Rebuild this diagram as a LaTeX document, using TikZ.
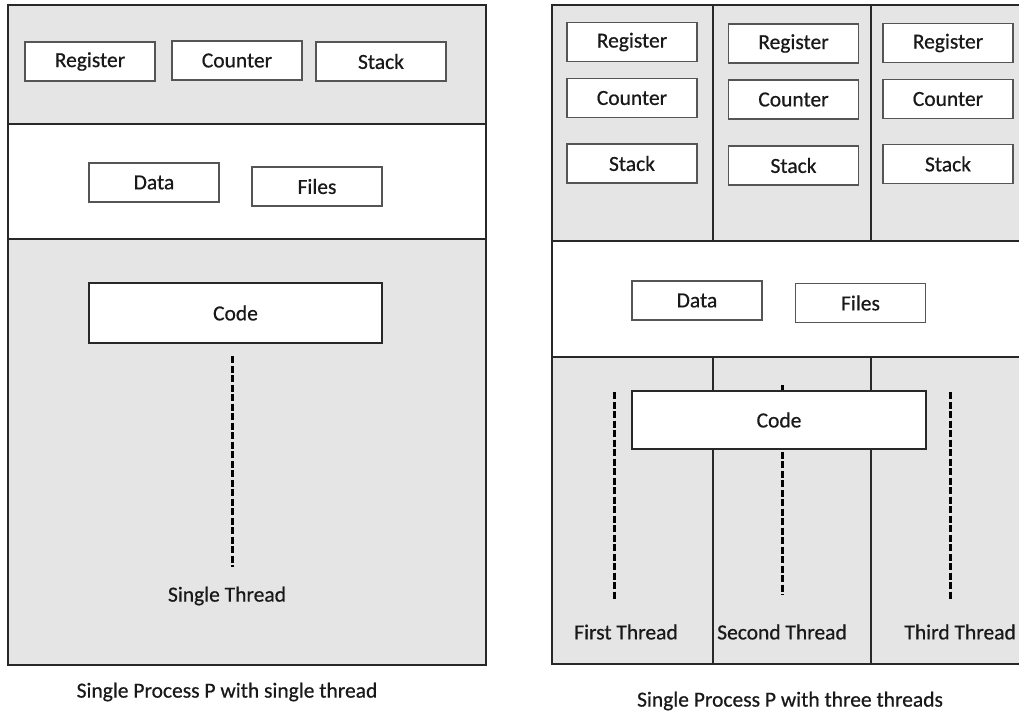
\documentclass[tikz,border=0pt]{standalone}
\usepackage{fontspec}
\setmainfont{Carlito}
\newfontfamily\labelfont{Carlito}[FakeBold=0.6]
\definecolor{panelgray}{RGB}{229,229,229}
\definecolor{frame}{RGB}{40,40,40}
\definecolor{boxline}{RGB}{85,85,85}
\definecolor{ink}{RGB}{25,25,25}
\begin{document}
\begin{tikzpicture}[x=1pt,y=-1pt,
  frameline/.style={draw=frame,line width=1.8pt},
  cell/.style={draw=boxline,fill=white,line width=1.9pt,minimum width=130pt,
    minimum height=39pt,inner sep=0pt,text=ink,font=\labelfont\fontsize{21.5}{25}\selectfont},
  codebox/.style={cell,draw=frame,minimum width=293pt,minimum height=59pt},
  lbl/.style={inner sep=0pt,text=ink,font=\labelfont\fontsize{21.5}{25}\selectfont},
  thread/.style={draw=black,line width=3pt,dash pattern=on 7pt off 2.5pt}]
\useasboundingbox (0,0) rectangle (1019,716);
\clip (0,0) rectangle (1019,716);

% ---------- process with a single thread ----------
\fill[panelgray] (8,5) rectangle (486,124);
\fill[white] (8,124) rectangle (486,239);
\fill[panelgray] (8,239) rectangle (486,665);
\draw[frameline] (8,124) -- (486,124) (8,239) -- (486,239);
\draw[frameline] (8,5) rectangle (486,665);

\node[cell] (lreg) at (90,61.5) {Register};
\node[cell] (lcnt) at (237,60.5) {Counter};
\node[cell] (lstk) at (381,61.5) {Stack};
\node[cell] (ldata) at (154,182.5) {Data};
\node[cell] (lfiles) at (317,186.5) {Files};
\node[codebox,minimum height=60pt] (lcode) at (235.5,313) {Code};

\coordinate (lt0) at (232,356);
\coordinate (lt1) at (232,567);
\draw[thread] (lt0) -- (lt1);
\node[lbl] (lthr) at (227,596) {Single Thread};
\node[lbl] (lcap) at (227,692) {Single Process P with single thread};

% ---------- process with three threads ----------
\fill[panelgray] (552,5) rectangle (1040,241);
\fill[white] (552,241) rectangle (1040,357);
\fill[panelgray] (552,357) rectangle (1040,664);
\draw[frameline] (552,241) -- (1040,241) (552,357) -- (1040,357);
\draw[frameline] (713,5) -- (713,241) (871,5) -- (871,241);
\draw[frameline] (713,357) -- (713,664) (871,357) -- (871,664);
\draw[frameline] (552,5) rectangle (1040,664);

\node[cell] (reg1) at (632,42) {Register};
\node[cell] (cnt1) at (632,98) {Counter};
\node[cell] (stk1) at (632,163.5) {Stack};
\node[cell] (reg2) at (793.5,43.5) {Register};
\node[cell] (cnt2) at (793.5,99.5) {Counter};
\node[cell] (stk2) at (793.5,165.5) {Stack};
\node[cell] (reg3) at (948,43) {Register};
\node[cell] (cnt3) at (948,99) {Counter};
\node[cell] (stk3) at (948,164) {Stack};

\node[cell] (rdata) at (697,300.5) {Data};
\node[cell] (rfiles) at (860.5,303) {Files};

\coordinate (t2a) at (782,385);
\coordinate (t2b) at (782,595);
\draw[thread] (t2a) -- (t2b);
\node[codebox,minimum width=294pt,minimum height=58pt] (rcode) at (779,420) {Code};

\coordinate (t1a) at (614,392);
\coordinate (t1b) at (614,600);
\coordinate (t3a) at (950,392);
\coordinate (t3b) at (950,600);
\draw[thread] (t1a) -- (t1b);
\draw[thread] (t3a) -- (t3b);

\node[lbl] (thr1) at (626,632) {First Thread};
\node[lbl] (thr2) at (782,632) {Second Thread};
\node[lbl,anchor=east] (thr3) at (1016,632) {Third Thread};
\node[lbl] (rcap) at (790,701) {Single Process P with three threads};
\end{tikzpicture}
\end{document}
